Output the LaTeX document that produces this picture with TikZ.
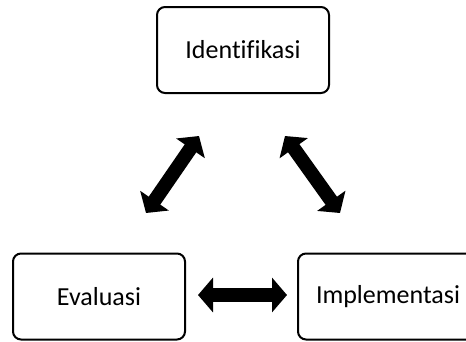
\documentclass[tikz,border=0pt]{standalone}
\usepackage{fontspec}
\setmainfont[Ligatures={NoCommon}]{Carlito}
\usetikzlibrary{arrows.meta}
\begin{document}
\begin{tikzpicture}[x=1pt,y=-1pt,
  box/.style={draw, line width=2pt, rounded corners=8pt, minimum width=172pt, minimum height=86pt, inner sep=0pt, font=\fontsize{26}{31}\selectfont},
  bigarrow/.style={line width=14pt, {Triangle[length=15pt,width=34pt]}-{Triangle[length=15pt,width=34pt]}}]
\useasboundingbox (0,0) rectangle (466,341);
\node[box] (idf) at (243,50) {Identifikasi};
\node[box] (eva) at (99,296.5) {Evaluasi};
\node[box, minimum width=180pt] (imp) at (388,296.5) {Implementasi};
\coordinate (a1) at (146,213);
\coordinate (a2) at (199,136);
\coordinate (b1) at (285,136);
\coordinate (b2) at (340,213);
\coordinate (c1) at (198,295);
\coordinate (c2) at (287,295);
\draw[bigarrow] (a1) -- (a2);
\draw[bigarrow] (b1) -- (b2);
\draw[bigarrow] (c1) -- (c2);
\end{tikzpicture}
\end{document}
